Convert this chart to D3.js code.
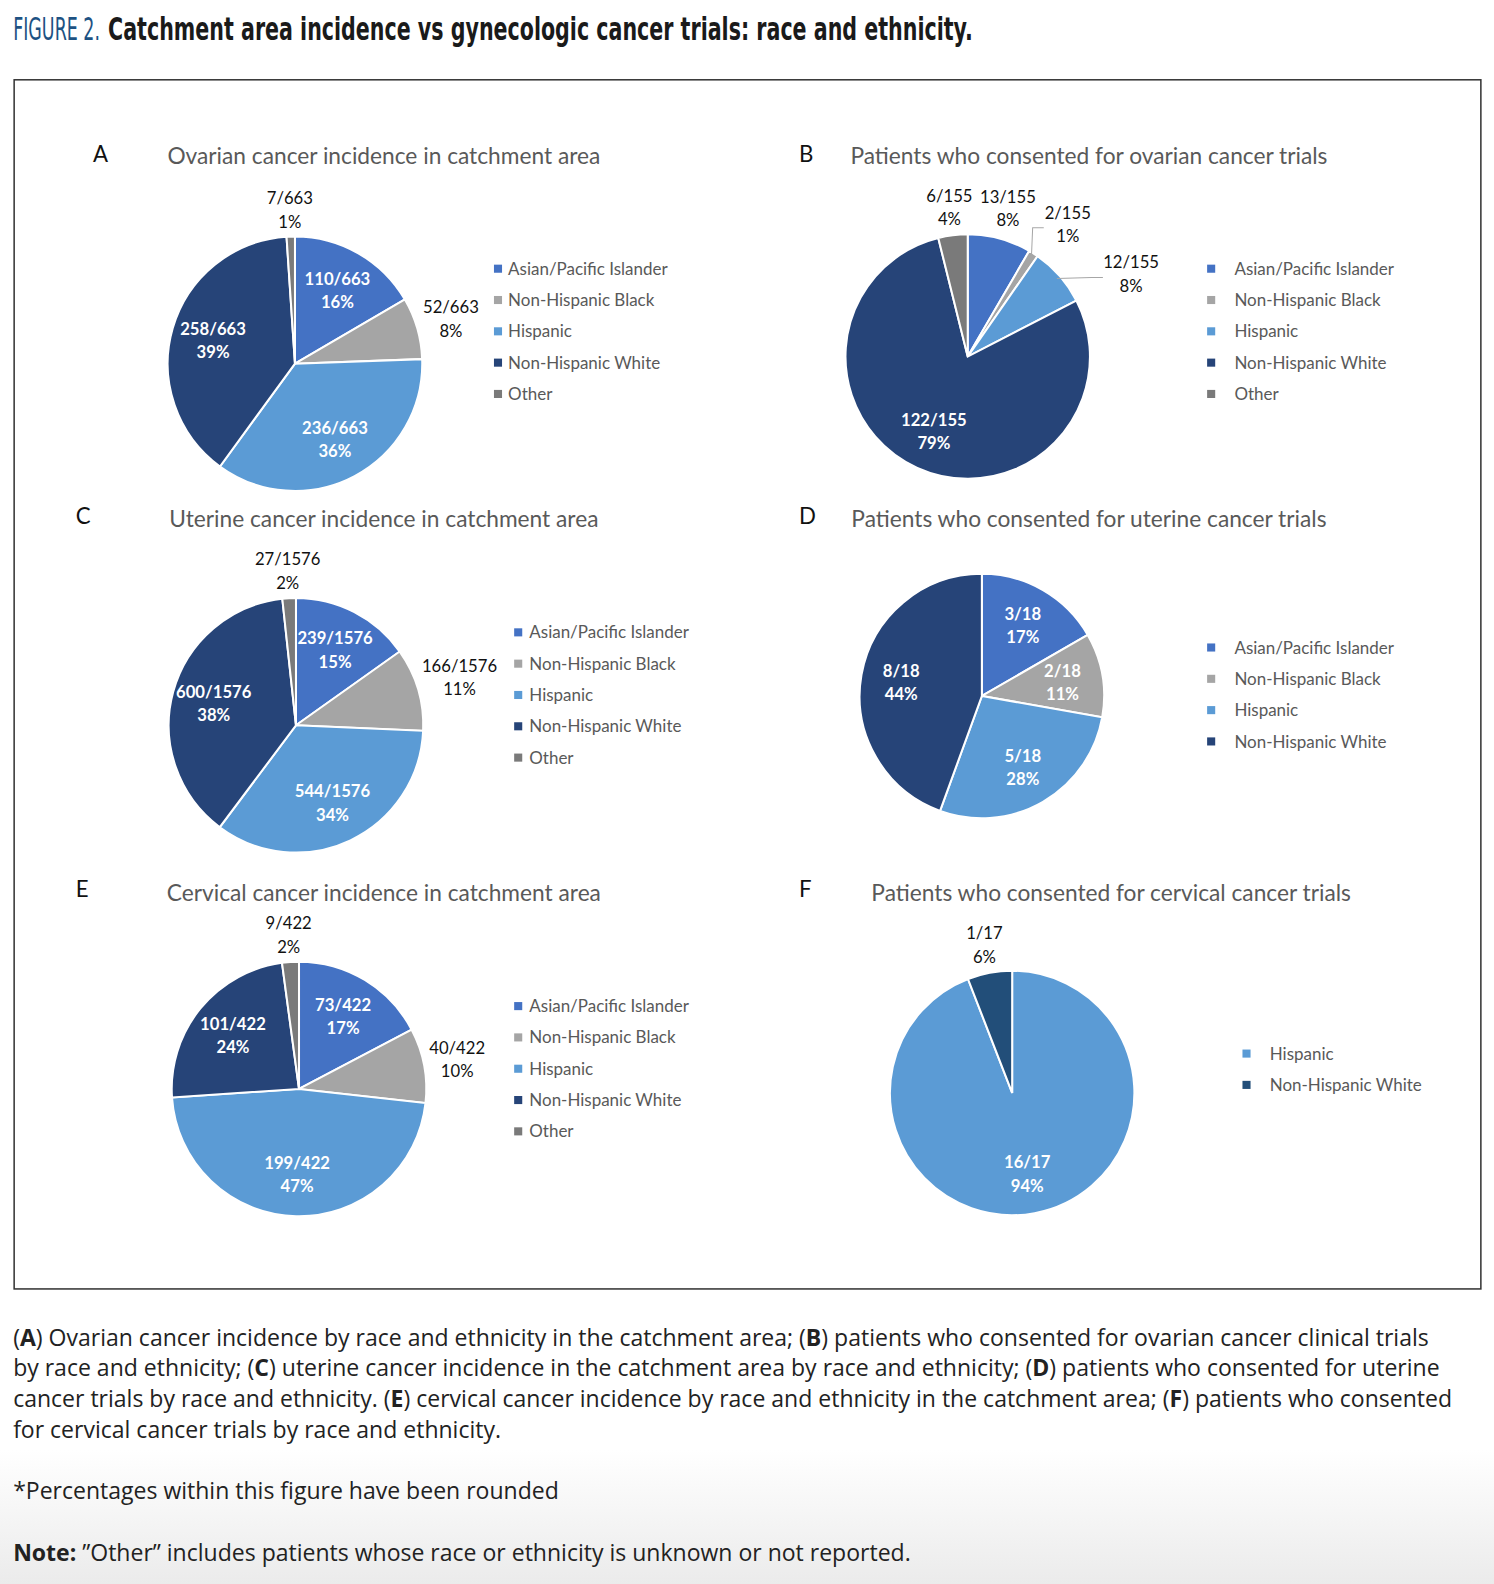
<!DOCTYPE html>
<html>
<head>
<meta charset="utf-8">
<script src="https://cdn.jsdelivr.net/npm/d3@7"></script>
<style>
  html, body { margin: 0; padding: 0; background: #fff; overflow: hidden; }
  #chart { width: 1494px; height: 1584px; }
  svg { display: block; }
</style>
</head>
<body>
<div id="chart"></div>
<script>
// categories and values
var categories = ["Asian/Pacific Islander", "Non-Hispanic Black", "Hispanic", "Non-Hispanic White", "Other"];
var trialCategoriesF = ["Hispanic", "Non-Hispanic White"];

var ovarianArea = [110, 52, 236, 258, 7];
var ovarianTrials = [13, 2, 12, 122, 6];
var uterineArea = [239, 166, 544, 600, 27];
var uterineTrials = [3, 2, 5, 8];
var cervicalArea = [73, 40, 199, 101, 9];
var cervicalTrials = [16, 1];

// percentages as printed (rounded in the source)
var ovarianAreaPct = [16, 8, 36, 39, 1];
var ovarianTrialsPct = [8, 1, 8, 79, 4];
var uterineAreaPct = [15, 11, 34, 38, 2];
var uterineTrialsPct = [17, 11, 28, 44];
var cervicalAreaPct = [17, 10, 47, 24, 2];
var cervicalTrialsPct = [94, 6];

var color = d3.scaleOrdinal()
	.domain(categories)
	.range(["#4472c4", "#a5a5a5", "#5b9bd5", "#264478", "#7a7a7a"]);
var colorF = d3.scaleOrdinal().domain(trialCategoriesF).range(["#5b9bd5", "#224e79"]);

var svgWidth = 1494, svgHeight = 1584;
var k = 1494 / 1479;   // layout below was measured on a 1479-wide copy
var font = "Lato, 'Open Sans', sans-serif";

var root = d3.select('#chart').append('svg')
	.attr('width', svgWidth).attr('height', svgHeight);

// faint grey at the bottom of the page
var grad = root.append('defs').append('linearGradient')
	.attr('id', 'fade').attr('x1', 0).attr('y1', 0).attr('x2', 0).attr('y2', 1);
grad.append('stop').attr('offset', '0%').attr('stop-color', '#ffffff');
grad.append('stop').attr('offset', '100%').attr('stop-color', '#ebebeb');
root.append('rect').attr('x', 0).attr('y', 1450).attr('width', svgWidth).attr('height', 134)
	.style('fill', 'url(#fade)');

var svg = root.append('g').attr('transform', 'scale(' + k + ')');

// heading, squeezed to the condensed look of the original
var headFont = "'Liberation Sans Narrow', 'DejaVu Sans Condensed', sans-serif";
function squeezed(x, width, txt, fill, weight) {
	var g = svg.append('g');
	var t = g.append('text').attr('x', 0).attr('y', 0).text(txt)
		.style('font-family', headFont).style('font-size', '31px')
		.style('font-weight', weight).style('fill', fill);
	var w = t.node().getComputedTextLength();
	g.attr('transform', 'translate(' + x + ',40) scale(' + (width / w) + ',1)');
}
squeezed(13, 86, 'FIGURE 2.', '#1d5283', 'normal');
squeezed(107, 856, 'Catchment area incidence vs gynecologic cancer trials: race and ethnicity.', '#1a1a1a', 'bold');

svg.append('rect').attr('x', 14).attr('y', 79).attr('width', 1452).attr('height', 1197)
	.style('fill', 'none').style('stroke', '#333').style('stroke-width', 1.5);

var panels = [
	{letter: 'A', title: 'Ovarian cancer incidence in catchment area', cats: categories, values: ovarianArea, pct: ovarianAreaPct,
	 lx: 92, ly: 160, tx: 380, ty: 162, cx: 292, cy: 360, r: 126, legX: 489, legTx: 503, legY: 266,
	 outside: ["Non-Hispanic Black", "Other"]},
	{letter: 'B', title: 'Patients who consented for ovarian cancer trials', cats: categories, values: ovarianTrials, pct: ovarianTrialsPct,
	 lx: 791, ly: 160, tx: 1078, ty: 162, cx: 958, cy: 353, r: 121, legX: 1195, legTx: 1222, legY: 266,
	 outside: ["Asian/Pacific Islander", "Non-Hispanic Black", "Hispanic", "Other"],
	 moved: {"Non-Hispanic Black": [37, 1.36], "Hispanic": [63, 1.5]}},
	{letter: 'C', title: 'Uterine cancer incidence in catchment area', cats: categories, values: uterineArea, pct: uterineAreaPct,
	 lx: 75, ly: 519, tx: 380, ty: 522, cx: 293, cy: 718, r: 126, legX: 509, legTx: 524, legY: 626,
	 outside: ["Non-Hispanic Black", "Other"]},
	{letter: 'D', title: 'Patients who consented for uterine cancer trials', cats: categories.slice(0, 4), values: uterineTrials, pct: uterineTrialsPct,
	 lx: 791, ly: 519, tx: 1078, ty: 522, cx: 972, cy: 689, r: 121, legX: 1195, legTx: 1222, legY: 641,
	 outside: []},
	{letter: 'E', title: 'Cervical cancer incidence in catchment area', cats: categories, values: cervicalArea, pct: cervicalAreaPct,
	 lx: 75, ly: 888, tx: 380, ty: 892, cx: 296, cy: 1078, r: 126, legX: 509, legTx: 524, legY: 996,
	 outside: ["Non-Hispanic Black", "Other"]},
	{letter: 'F', title: 'Patients who consented for cervical cancer trials', cats: trialCategoriesF, values: cervicalTrials, pct: cervicalTrialsPct,
	 lx: 791, ly: 888, tx: 1100, ty: 892, cx: 1002, cy: 1082, r: 121, legX: 1230, legTx: 1257, legY: 1043,
	 outside: ["Non-Hispanic White"], colors: colorF}
];

panels.forEach(drawPanel);

function drawPanel(p) {
	var col = p.colors || color;
	var total = d3.sum(p.values);
	var data = p.cats.map(function(c, i) {
		return {cat: c, value: p.values[i], label: p.values[i] + '/' + total, pct: p.pct[i] + '%'};
	});

	svg.append('text').attr('x', p.lx).attr('y', p.ly).text(p.letter)
		.style('font-family', font).style('font-size', '22px').style('fill', '#111');
	svg.append('text').attr('x', p.tx).attr('y', p.ty).text(p.title)
		.attr('text-anchor', 'middle')
		.style('font-family', font).style('font-size', '22.5px').style('fill', '#595959');

	var g = svg.append('g').attr('transform', 'translate(' + p.cx + ',' + p.cy + ')');
	var pie = d3.pie().sort(null).value(function(d) { return d.value; });
	var arc = d3.arc().innerRadius(0).outerRadius(p.r);
	var arcs = pie(data);

	g.selectAll('.slice').data(arcs)
		.enter().append('path')
		.attr('class', 'slice')
		.attr('d', arc)
		.style('fill', function(d) { return col(d.data.cat); })
		.style('stroke', '#fff').style('stroke-width', 2);

	var lineH = 23;
	arcs.forEach(function(d) {
		var mid = (d.startAngle + d.endAngle) / 2;
		var out = p.outside.indexOf(d.data.cat) >= 0;
		var x, y;
		if (p.moved && p.moved[d.data.cat]) {
			var m = p.moved[d.data.cat];
			var a = m[0] * Math.PI / 180;
			x = Math.sin(a) * p.r * m[1];
			y = -Math.cos(a) * p.r * m[1];
			// leader line from the slice edge to the label
			var w = d.data.label.length * 8.3;
			g.append('polyline')
				.attr('points', [
					[Math.sin(mid) * p.r * 0.97, -Math.cos(mid) * p.r * 0.97],
					[x - w / 2 - 14, y + 4],
					[x - w / 2 - 3, y + 4]
				].map(function(pt) { return pt.join(','); }).join(' '))
				.style('fill', 'none').style('stroke', '#a6a6a6').style('stroke-width', 1);
		} else if (out) {
			var wd = d.data.label.length * 8.3, ht = 42;
			var ext = Math.abs(Math.sin(mid)) * wd / 2 + Math.abs(Math.cos(mid)) * ht / 2;
			var rr = p.r + 5 + ext;
			x = Math.sin(mid) * rr;
			y = -Math.cos(mid) * rr;
		} else {
			var ri = p.r * 0.67;
			x = Math.sin(mid) * ri;
			y = -Math.cos(mid) * ri;
		}
		var t = g.append('text')
			.attr('text-anchor', 'middle')
			.style('font-family', font).style('font-size', '16.5px')
			.style('fill', out ? '#111' : '#fff')
			.style('font-weight', out ? 'normal' : 'bold');
		t.append('tspan').attr('x', x).attr('y', y - 5).text(d.data.label);
		t.append('tspan').attr('x', x).attr('y', y - 5 + lineH).text(d.data.pct);
	});

	var leg = svg.append('g');
	var rows = leg.selectAll('.row').data(p.cats)
		.enter().append('g')
		.attr('transform', function(c, i) { return 'translate(0,' + (p.legY + i * 31) + ')'; });
	rows.append('rect').attr('x', p.legX).attr('y', -4).attr('width', 8).attr('height', 8)
		.style('fill', function(c) { return col(c); });
	rows.append('text').attr('x', p.legTx).attr('y', 6).text(function(c) { return c; })
		.style('font-family', font).style('font-size', '16.8px').style('fill', '#595959');
}

// caption below the figure
var capFont = "'Open Sans', Roboto, sans-serif";
var capLines = [
	[['(', 0], ['A', 1], [') Ovarian cancer incidence by race and ethnicity in the catchment area; (', 0], ['B', 1], [') patients who consented for ovarian cancer clinical trials', 0]],
	[['by race and ethnicity; (', 0], ['C', 1], [') uterine cancer incidence in the catchment area by race and ethnicity; (', 0], ['D', 1], [') patients who consented for uterine', 0]],
	[['cancer trials by race and ethnicity. (', 0], ['E', 1], [') cervical cancer incidence by race and ethnicity in the catchment area; (', 0], ['F', 1], [') patients who consented', 0]],
	[['for cervical cancer trials by race and ethnicity.', 0]]
];
capLines.forEach(function(line, i) {
	var t = svg.append('text').attr('x', 13).attr('y', 1332 + i * 30.5)
		.style('font-family', capFont).style('font-size', '22.8px').style('fill', '#222');
	line.forEach(function(part) {
		t.append('tspan').text(part[0]).style('font-weight', part[1] ? 'bold' : 'normal');
	});
});
svg.append('text').attr('x', 13).attr('y', 1484).text('*Percentages within this figure have been rounded')
	.style('font-family', capFont).style('font-size', '22.8px').style('fill', '#222');
var note = svg.append('text').attr('x', 13).attr('y', 1545)
	.style('font-family', capFont).style('font-size', '22.8px').style('fill', '#222');
note.append('tspan').text('Note:').style('font-weight', 'bold');
note.append('tspan').text(' \u201DOther\u201D includes patients whose race or ethnicity is unknown or not reported.');
</script>
</body>
</html>
